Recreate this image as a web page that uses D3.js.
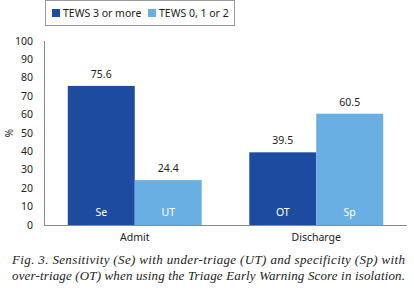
<!DOCTYPE html>
<html>
<head>
<meta charset="utf-8">
<script src="https://cdn.jsdelivr.net/npm/d3@7"></script>
<style>
  body { margin: 0; background: #fff; }
  svg text { font-family: "Noto Sans", "Open Sans", sans-serif; fill: #222; }
  svg text.caption { font-family: "Liberation Serif", serif; font-style: italic; }
</style>
</head>
<body>
<svg id="chart" width="414" height="300"></svg>
<script>
const groups = ['Admit', 'Discharge'];
const seriesNames = ['TEWS 3 or more', 'TEWS 0, 1 or 2'];
const values = [
  [75.6, 24.4],
  [39.5, 60.5]
];
const innerLabels = [
  ['Se', 'UT'],
  ['OT', 'Sp']
];
const yTicks = [0, 10, 20, 30, 40, 50, 60, 70, 80, 90, 100];
const captionLines = [
  'Fig. 3. Sensitivity (Se) with under-triage (UT) and specificity (Sp) with',
  'over-triage (OT) when using the Triage Early Warning Score in isolation.'
];

const svg = d3.select('#chart');
const margin = { left: 44, right: 7, top: 41, bottom: 75 };
const width = 414, height = 300;
const colors = ['#1c4ba0', '#6aafe3'];

const x = d3.scaleBand().domain(groups).range([margin.left, width - margin.right]).paddingInner(0).paddingOuter(0);
const xs = d3.scaleBand().domain([0, 1]).range([0, x.bandwidth()]).paddingOuter(0.355);
const y = d3.scaleLinear().domain([0, 100]).range([height - margin.bottom, margin.top]);

// axes
svg.append('line').attr('x1', margin.left + 0.5).attr('x2', margin.left + 0.5)
  .attr('y1', y(100)).attr('y2', y(0)).attr('stroke', '#8a8a8a');
svg.append('line').attr('x1', margin.left).attr('x2', width - margin.right)
  .attr('y1', y(0) + 0.5).attr('y2', y(0) + 0.5).attr('stroke', '#8a8a8a');

svg.append('g').selectAll('text').data(yTicks).join('text')
  .attr('x', 33).attr('y', (d) => y(d) + 3.5)
  .attr('text-anchor', 'end').attr('font-size', 10.5).text((d) => d);

svg.append('text').attr('transform', `translate(13,${y(50)}) rotate(-90)`)
  .attr('text-anchor', 'middle').attr('font-size', 10).text('%');

// bars
const g = svg.selectAll('g.grp').data(groups).join('g').attr('class', 'grp')
  .attr('transform', (d) => `translate(${x(d)},0)`);

g.each(function (grp, gi) {
  const sel = d3.select(this);
  values[gi].forEach((v, si) => {
    sel.append('rect').attr('x', xs(si)).attr('width', xs.bandwidth())
      .attr('y', y(v)).attr('height', y(0) - y(v)).attr('fill', colors[si]);
    sel.append('text').attr('x', xs(si) + xs.bandwidth() / 2).attr('y', y(v) - 8)
      .attr('text-anchor', 'middle').attr('font-size', 10.5).text(v.toFixed(1));
    sel.append('text').attr('x', xs(si) + xs.bandwidth() / 2).attr('y', y(0) - 9)
      .attr('text-anchor', 'middle').attr('font-size', 10.5).style('fill', '#fff').text(innerLabels[gi][si]);
  });
  sel.append('text').attr('x', x.bandwidth() / 2).attr('y', y(0) + 16)
    .attr('text-anchor', 'middle').attr('font-size', 10.5).text(grp);
});

// legend
const legend = svg.append('g');
legend.append('rect').attr('x', 45.5).attr('y', 0.5).attr('width', 189).attr('height', 25)
  .attr('fill', '#fff').attr('stroke', '#9a9a9a');
[52, 148].forEach((lx, i) => {
  legend.append('rect').attr('x', lx).attr('y', 9).attr('width', 8).attr('height', 8).attr('fill', colors[i]);
  legend.append('text').attr('x', lx + 11).attr('y', 16.5).attr('font-size', 10.5).text(seriesNames[i]);
});

// caption
captionLines.forEach((line, i) => {
  svg.append('text').attr('class', 'caption').attr('x', 12).attr('y', 264 + i * 16)
    .attr('font-size', 13).attr('textLength', 393).attr('lengthAdjust', 'spacing').text(line);
});
</script>
</body>
</html>
